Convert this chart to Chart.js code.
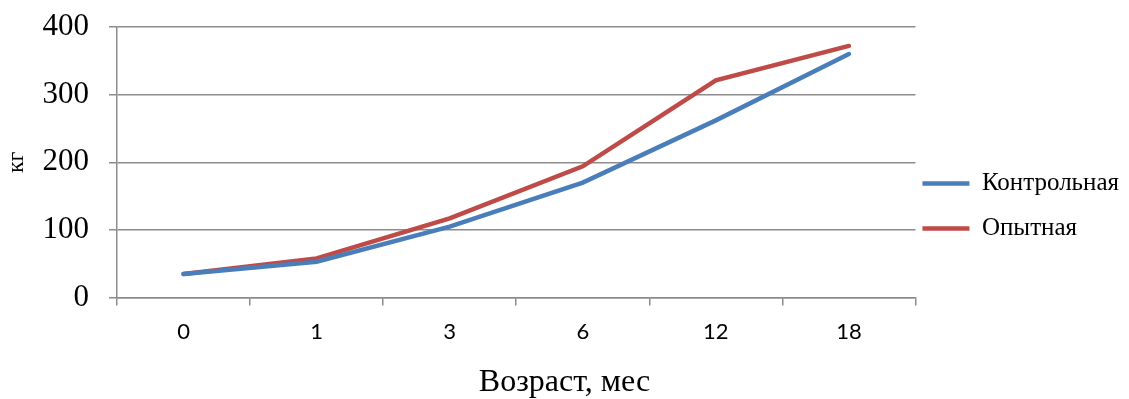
<!DOCTYPE html>
<html>
<head>
<meta charset="utf-8">
<script src="https://cdn.jsdelivr.net/npm/chart.js@4"></script>
<style>
  html, body { margin: 0; padding: 0; background: #fff; }
  #wrap { width: 1129px; height: 399px; }
</style>
</head>
<body>
<div id="wrap"><canvas id="chart" width="1129" height="399"></canvas></div>
<script>
// ages in months
const ages = ['0', '1', '3', '6', '12', '18'];
// live weight, kg
const control = [35, 53, 105, 170, 262, 360];
const trial = [35, 58, 117, 194, 321, 372];

const serif = "'Liberation Serif', 'Times New Roman', serif";
const gridColor = '#8c8c8c';

const ctx = document.getElementById('chart').getContext('2d');
const chart = new Chart(ctx, {
  type: 'line',
  data: {
    labels: ages,
    datasets: [
      {
        label: 'Контрольная',
        data: control,
        borderColor: '#4a7ebb',
        backgroundColor: '#4a7ebb',
        borderWidth: 4.5,
        borderCapStyle: 'round',
        pointRadius: 0,
        tension: 0
      },
      {
        label: 'Опытная',
        data: trial,
        borderColor: '#be4b48',
        backgroundColor: '#be4b48',
        borderWidth: 4.5,
        borderCapStyle: 'round',
        pointRadius: 0,
        tension: 0
      }
    ]
  },
  options: {
    responsive: false,
    animation: false,
    layout: { padding: { top: 26, right: 0, bottom: 0, left: 0 } },
    plugins: {
      tooltip: { enabled: false },
      legend: {
        position: 'right',
        labels: {
          color: '#000',
          boxWidth: 47,
          boxHeight: 0,
          padding: 7,
          font: { family: serif, size: 25, lineHeight: 1.52 },
          // array text so the row height follows the font line height
          generateLabels: c => Chart.defaults.plugins.legend.labels.generateLabels(c)
            .map(item => ({ ...item, text: [item.text] }))
        }
      },
      title: {
        display: true,
        position: 'bottom',
        text: 'Возраст, мес',
        color: '#000',
        padding: { top: 9, bottom: 0 },
        font: { family: serif, size: 32, weight: 'normal', lineHeight: 1 }
      }
    },
    scales: {
      x: {
        offset: true,
        grid: {
          offset: true,
          drawOnChartArea: false,
          color: gridColor,
          tickLength: 8,
          lineWidth: 1.5
        },
        border: { color: gridColor, width: 1.5 },
        ticks: {
          color: '#000',
          padding: 13,
          font: { family: "Lato, 'Liberation Sans', sans-serif", size: 22 }
        }
      },
      y: {
        min: 0,
        max: 400,
        afterFit: s => { s.paddingTop = 27; s.width = 117; },
        grid: {
          color: gridColor,
          tickLength: 8,
          lineWidth: 1.5
        },
        border: { color: gridColor, width: 1.5 },
        ticks: {
          stepSize: 100,
          color: '#000',
          padding: 20,
          font: { family: serif, size: 31 }
        },
        title: {
          display: true,
          text: 'кг',
          color: '#000',
          padding: { top: 2, bottom: 0 },
          font: { family: serif, size: 24 }
        }
      }
    }
  }
});
</script>
</body>
</html>
